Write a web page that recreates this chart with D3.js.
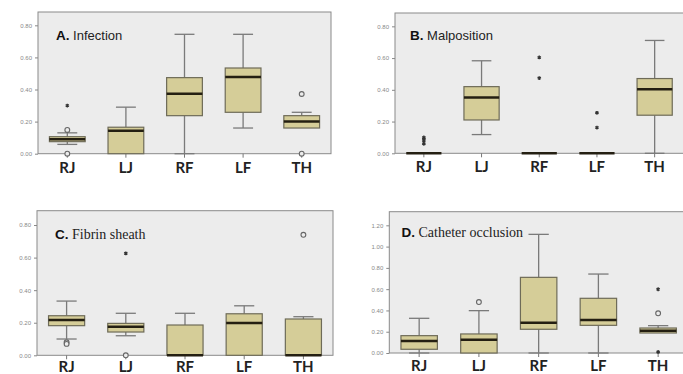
<!DOCTYPE html>
<html>
<head>
<meta charset="utf-8">
<script src="https://cdn.jsdelivr.net/npm/d3@7"></script>
<style>
  body { margin: 0; background: #fff; }
  svg { display: block; }
</style>
</head>
<body>
<script>
// Categories (catheter sites)
const sites = ["RJ", "LJ", "RF", "LF", "TH"];

// Box stats per site: [lower whisker, q1, median, q3, upper whisker]
const infectionStats = [
    [0.058, 0.075, 0.09, 0.106, 0.13],
    [0, 0, 0.143, 0.165, 0.29],
    [0, 0.237, 0.374, 0.474, 0.744],
    [0.16, 0.258, 0.478, 0.534, 0.744],
    [0.16, 0.16, 0.2, 0.237, 0.258]
];
const malpositionStats = [
    [0, 0, 0, 0, 0],
    [0.118, 0.21, 0.351, 0.42, 0.583],
    [0, 0, 0, 0, 0],
    [0, 0, 0, 0, 0],
    [0, 0.24, 0.404, 0.471, 0.711]
];
const fibrinStats = [
    [0.1, 0.182, 0.217, 0.243, 0.333],
    [0.12, 0.143, 0.176, 0.196, 0.258],
    [0, 0, 0, 0.186, 0.258],
    [0, 0, 0.198, 0.255, 0.304],
    [0, 0, 0, 0.223, 0.237]
];
const occlusionStats = [
    [0, 0.035, 0.113, 0.163, 0.326],
    [0, 0, 0.125, 0.179, 0.398],
    [0, 0.223, 0.285, 0.711, 1.115],
    [0, 0.26, 0.31, 0.514, 0.742],
    [0.188, 0.188, 0.21, 0.235, 0.257]
];

// Outliers: [site, value, kind]  "o" = outlier, "*" = extreme
const infectionOutliers = [["RJ", 0.148, "o"], ["RJ", 0.30, "*"], ["RJ", 0, "o"], ["TH", 0.372, "o"], ["TH", 0, "o"]];
const malpositionOutliers = [["RJ", 0.10, "*"], ["RJ", 0.09, "*"], ["RJ", 0.08, "*"], ["RJ", 0.06, "*"],
    ["RF", 0.604, "*"], ["RF", 0.474, "*"], ["LF", 0.255, "*"], ["LF", 0.162, "*"]];
const fibrinOutliers = [["RJ", 0.08, "o"], ["RJ", 0.07, "o"], ["LJ", 0.626, "*"], ["LJ", 0, "o"], ["TH", 0.74, "o"]];
const occlusionOutliers = [["LJ", 0.479, "o"], ["TH", 0.599, "*"], ["TH", 0.373, "o"], ["TH", 0.01, "*"]];

// Tick labels
const ticksSmall = [0, 0.2, 0.4, 0.6, 0.8];
const ticksLarge = [0, 0.2, 0.4, 0.6, 0.8, 1.0, 1.2];

const width = 683, height = 374;
const svg = d3.select("body").append("svg")
    .attr("width", width)
    .attr("height", height)
    .style("font-family", "'Liberation Sans', Arial, sans-serif");

const panels = [
    { letter: "A.", name: "Infection", serif: false, stats: infectionStats, outliers: infectionOutliers, ticks: ticksSmall,
      left: 38, top: 12, right: 331, bottom: 153.7, max: 0.883, tx: 56, ty: 39.5, lab: 19 },
    { letter: "B.", name: "Malposition", serif: false, stats: malpositionStats, outliers: malpositionOutliers, ticks: ticksSmall,
      left: 395, top: 13, right: 683.5, bottom: 153.3, max: 0.884, tx: 410, ty: 40, lab: 19 },
    { letter: "C.", name: "Fibrin sheath", serif: true, stats: fibrinStats, outliers: fibrinOutliers, ticks: ticksSmall,
      left: 37, top: 210.7, right: 333, bottom: 355.3, max: 0.888, tx: 55, ty: 238.5, lab: 17 },
    { letter: "D.", name: "Catheter occlusion", serif: true, stats: occlusionStats, outliers: occlusionOutliers, ticks: ticksLarge,
      left: 389.3, top: 211.7, right: 688, bottom: 353, max: 1.328, tx: 401.5, ty: 237, lab: 18 }
];

const boxFill = "#d5cd98";
const boxStroke = "#6e6b58";
const lineColor = "#7a7a7a";

panels.forEach(p => {
    const g = svg.append("g");

    const x = d3.scaleBand().domain(sites).range([p.left, p.right]);
    const y = d3.scaleLinear().domain([0, p.max]).range([p.bottom, p.top]);
    const bw = x.bandwidth() * 0.61;
    const cw = x.bandwidth() * 0.34;

    // Plot background
    g.append("rect")
        .attr("x", p.left).attr("y", p.top)
        .attr("width", p.right - p.left).attr("height", p.bottom - p.top)
        .attr("fill", "#ececec")
        .attr("stroke", "#8a8a8a")
        .attr("stroke-width", 1);

    // Y axis
    const yAxis = g.append("g")
        .attr("transform", `translate(${p.left},0)`)
        .call(d3.axisLeft(y).tickValues(p.ticks).tickFormat(d3.format(".2f")).tickSize(3).tickPadding(3));
    yAxis.select(".domain").remove();
    yAxis.selectAll("line").attr("stroke", "#888");
    yAxis.selectAll("text").attr("fill", "#888").style("font-size", "6px");

    // X axis: ticks and bold labels
    const xAxis = g.append("g")
        .attr("transform", `translate(0,${p.bottom})`)
        .call(d3.axisBottom(x).tickSize(4).tickPadding(4));
    xAxis.select(".domain").remove();
    xAxis.selectAll("line").attr("stroke", "#777");
    xAxis.selectAll("text")
        .attr("fill", "#222")
        .attr("y", p.lab)
        .attr("dy", null)
        .style("font-family", "Lato, 'Open Sans', sans-serif")
        .style("font-weight", "bold")
        .style("font-size", "15px");

    const boxes = g.selectAll(".box")
        .data(p.stats.map((s, i) => ({ site: sites[i], s })))
        .enter().append("g")
        .attr("transform", d => `translate(${x(d.site) + x.bandwidth() / 2},0)`);

    // Whiskers
    boxes.filter(d => d.s[4] > d.s[3]).each(function (d) {
        const b = d3.select(this);
        b.append("line").attr("x1", 0).attr("x2", 0)
            .attr("y1", y(d.s[3])).attr("y2", y(d.s[4]))
            .attr("stroke", lineColor).attr("stroke-width", 1.3);
        b.append("line").attr("x1", -cw / 2).attr("x2", cw / 2)
            .attr("y1", y(d.s[4])).attr("y2", y(d.s[4]))
            .attr("stroke", lineColor).attr("stroke-width", 1.3);
    });
    boxes.filter(d => d.s[0] < d.s[1]).each(function (d) {
        const b = d3.select(this);
        b.append("line").attr("x1", 0).attr("x2", 0)
            .attr("y1", y(d.s[1])).attr("y2", y(d.s[0]))
            .attr("stroke", lineColor).attr("stroke-width", 1.3);
        b.append("line").attr("x1", -cw / 2).attr("x2", cw / 2)
            .attr("y1", y(d.s[0])).attr("y2", y(d.s[0]))
            .attr("stroke", lineColor).attr("stroke-width", 1.3);
    });

    // Boxes
    boxes.append("rect")
        .attr("x", -bw / 2)
        .attr("y", d => y(d.s[3]))
        .attr("width", bw)
        .attr("height", d => y(d.s[1]) - y(d.s[3]))
        .attr("fill", boxFill)
        .attr("stroke", boxStroke)
        .attr("stroke-width", 1.2);

    // Medians
    boxes.append("line")
        .attr("x1", -bw / 2).attr("x2", bw / 2)
        .attr("y1", d => y(d.s[2])).attr("y2", d => y(d.s[2]))
        .attr("stroke", "#241f12")
        .attr("stroke-width", 2.5);

    // Outliers
    p.outliers.forEach(([site, v, kind]) => {
        const cx = x(site) + x.bandwidth() / 2;
        if (kind === "o") {
            g.append("circle")
                .attr("cx", cx).attr("cy", y(v)).attr("r", 2.4)
                .attr("fill", "#ececec")
                .attr("stroke", "#666")
                .attr("stroke-width", 1.1);
        } else {
            g.append("path")
                .attr("transform", `translate(${cx},${y(v)})`)
                .attr("d", d3.symbol(d3.symbolAsterisk, 10)())
                .attr("stroke", "#333")
                .attr("stroke-width", 1.3);
        }
    });

    // Panel title
    const title = g.append("text")
        .attr("x", p.tx).attr("y", p.ty)
        .attr("fill", "#111");
    title.append("tspan")
        .style("font-weight", "bold")
        .style("font-size", "13.5px")
        .text(p.letter);
    title.append("tspan")
        .style("font-family", p.serif ? "'Liberation Serif', 'Times New Roman', serif" : "'Liberation Sans', Arial, sans-serif")
        .style("font-size", p.serif ? "14px" : "13px")
        .attr("fill", "#222")
        .text(" " + p.name);
});
</script>
</body>
</html>
